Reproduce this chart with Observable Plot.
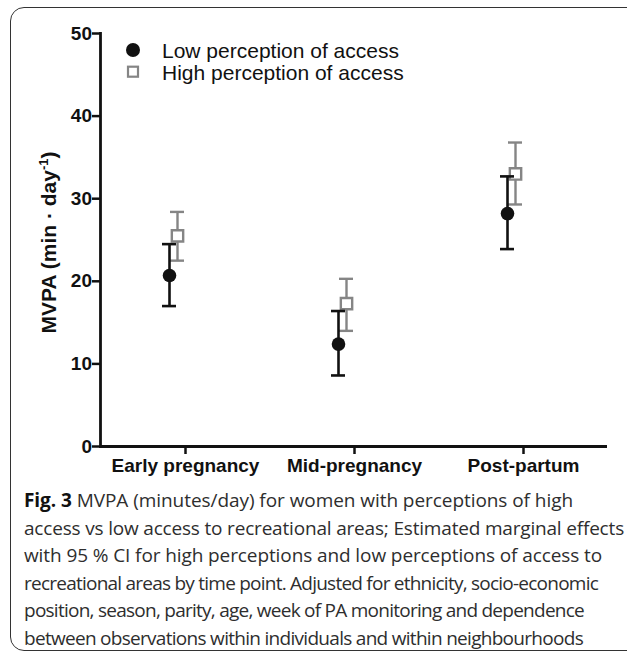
<!DOCTYPE html>
<html>
<head>
<meta charset="utf-8">
<script src="https://cdn.jsdelivr.net/npm/d3@7"></script>
<script src="https://cdn.jsdelivr.net/npm/@observablehq/plot@0.6"></script>
<style>
  html, body { margin: 0; padding: 0; background: #fff; }
  #wrap { position: relative; width: 627px; height: 653px; overflow: hidden; }
  #border { position: absolute; left: 10px; top: 7px; width: 640px; height: 644px;
            border: 1.6px solid #333; border-radius: 14px; box-sizing: border-box; }
  #chart { position: absolute; left: 0; top: 0; }
  #legend { position: absolute; left: 0; top: 0; }
  #caption { position: absolute; left: 24px; top: 487px; width: 610px; font-family: "Open Sans", sans-serif;
             font-size: 19px; line-height: 27.6px; color: #2e2e2e; }
  #caption div { white-space: nowrap; display: block; }
  #caption span.line { display: inline-block; }
</style>
</head>
<body>
<div id="wrap">
  <div id="border"></div>
  <div id="chart"></div>
  <svg id="legend" width="627" height="100"></svg>
  <div id="caption"></div>
</div>
<script>
// ---- data ----
const timepoints = ["Early pregnancy", "Mid-pregnancy", "Post-partum"];
const series = ["Low perception of access", "High perception of access"];
const lowMean = [20.7, 12.4, 28.2];
const lowLo   = [17.0, 8.6, 23.9];
const lowHi   = [24.5, 16.4, 32.7];
const highMean = [25.5, 17.3, 33.0];
const highLo   = [22.5, 14.0, 29.3];
const highHi   = [28.4, 20.3, 36.8];
const yTicks = [0, 10, 20, 30, 40, 50];
const captionLead = "Fig. 3";
const captionLines = [
  "MVPA (minutes/day) for women with perceptions of high",
  "access vs low access to recreational areas; Estimated marginal effects",
  "with 95 % CI for high perceptions and low perceptions of access to",
  "recreational areas by time point. Adjusted for ethnicity, socio-economic",
  "position, season, parity, age, week of PA monitoring and dependence",
  "between observations within individuals and within neighbourhoods"
];
// layout: target rendered width of each caption line (px), to mimic the original typeface
const captionLineWidths = [549, 600, 578, 574, 560, 559];

const low = timepoints.map((t, i) => ({time: t, mean: lowMean[i], lo: lowLo[i], hi: lowHi[i]}));
const high = timepoints.map((t, i) => ({time: t, mean: highMean[i], lo: highLo[i], hi: highHi[i]}));

const gray = "#858585";
const ink = "#111";
const font = "'Liberation Sans', Arial, sans-serif";

function errMarks(data, color, dx, width) {
  return [
    Plot.ruleX(data, {x: "time", y1: "lo", y2: "hi", dx, stroke: color, strokeWidth: width}),
    Plot.ruleY(data, {y: "hi", x1: "time", x2: "time", insetLeft: -7, insetRight: -7, dx, stroke: color, strokeWidth: width}),
    Plot.ruleY(data, {y: "lo", x1: "time", x2: "time", insetLeft: -7, insetRight: -7, dx, stroke: color, strokeWidth: width})
  ];
}

const plot = Plot.plot({
  width: 627,
  height: 490,
  marginLeft: 100,
  marginRight: 20,
  marginTop: 33,
  marginBottom: 44,
  style: {fontFamily: font, fontSize: "19px", fontWeight: "bold", color: ink, background: "transparent"},
  x: {type: "point", domain: timepoints, padding: 0.5, label: null},
  y: {domain: [0, 50], ticks: yTicks, label: null},
  marks: [
    Plot.axisY({ticks: yTicks, tickSize: 8, tickPadding: 0.5, strokeWidth: 2.5, stroke: ink, fill: ink, label: null, fontSize: 19, fontWeight: "bold"}),
    Plot.axisX({tickSize: 8, tickPadding: 4, strokeWidth: 2.5, stroke: ink, fill: ink, label: null, fontSize: 19, fontWeight: "bold"}),
    Plot.ruleY([0], {stroke: ink, strokeWidth: 2.8}),
    Plot.frame({anchor: "left", stroke: ink, strokeWidth: 2.8}),
    ...errMarks(high, gray, -8, 2.4),
    Plot.dot(high, {x: "time", y: "mean", dx: -8, symbol: "square", r: 6.4, fill: "white", stroke: gray, strokeWidth: 2.4}),
    ...errMarks(low, ink, -16, 2.6),
    Plot.dot(low, {x: "time", y: "mean", dx: -16, symbol: "circle", r: 6.8, fill: ink, stroke: "none"})
  ]
});
document.getElementById("chart").appendChild(plot);

// y axis title
const svg = d3.select(plot);
const yScale = plot.scale("y");
const yMid = (yScale.range[0] + yScale.range[1]) / 2 + 3;
const yt = svg.append("text")
  .attr("transform", `translate(56,${yMid}) rotate(-90)`)
  .attr("text-anchor", "middle")
  .attr("font-family", font).attr("font-size", 21).attr("font-weight", "bold").attr("fill", ink);
yt.append("tspan").text("MVPA (min · day");
yt.append("tspan").attr("font-size", 13).attr("dy", -8.5).text("-1");
yt.append("tspan").attr("dy", 8.5).text(")");

// legend
const leg = d3.select("#legend");
series.forEach((s, i) => {
  const cy = 50 + i * 21.7;
  if (i === 0) leg.append("circle").attr("cx", 133).attr("cy", cy).attr("r", 7).attr("fill", ink);
  else leg.append("rect").attr("x", 128).attr("y", cy - 5).attr("width", 10).attr("height", 10)
          .attr("fill", "white").attr("stroke", gray).attr("stroke-width", 2.2);
  leg.append("text").attr("x", 162).attr("y", cy + 7.8)
     .attr("font-family", font).attr("font-size", 21).attr("fill", ink).text(s);
});

// caption
const cap = d3.select("#caption");
captionLines.forEach((l, i) => {
  const d = cap.append("div");
  const sp = d.append("span").attr("class", "line");
  if (i === 0) {
    sp.append("b").style("font-weight", "700").style("color", ink).text(captionLead);
    sp.append("span").text(" " + l);
  } else sp.text(l);
  const node = sp.node();
  const w = node.getBoundingClientRect().width;
  const chars = (i === 0 ? captionLead.length + 1 + l.length : l.length);
  const ls = (captionLineWidths[i] - w) / chars;
  sp.style("letter-spacing", ls + "px");
});
</script>
</body>
</html>
